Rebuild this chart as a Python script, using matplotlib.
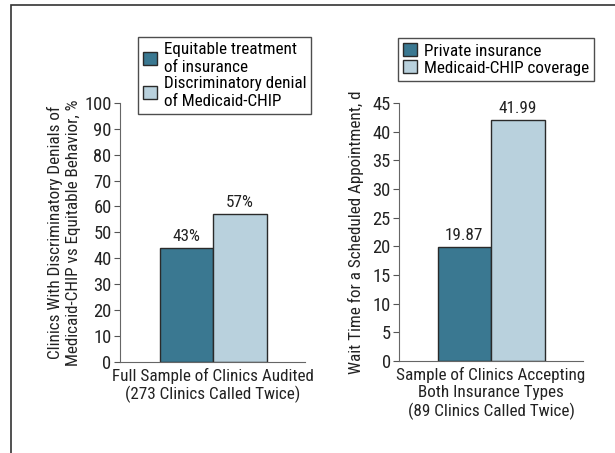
import matplotlib.pyplot as plt
from matplotlib.patches import Patch, Rectangle

plt.rcParams['font.family'] = ['Roboto Condensed', 'DejaVu Sans']

# 左图：歧视性拒绝
left_names = ["Equitable treatment\nof insurance", "Discriminatory denial\nof Medicaid-CHIP"]
left_vals = [44, 57]
left_labels = ["43%", "57%"]
left_cat = "Full Sample of Clinics Audited\n(273 Clinics Called Twice)"
left_ylabel = "Clinics With Discriminatory Denials of\nMedicaid-CHIP vs Equitable Behavior, %"

# 右图：等待时间
right_names = ["Private insurance", "Medicaid-CHIP coverage"]
right_vals = [19.87, 41.99]
right_labels = ["19.87", "41.99"]
right_cat = "Sample of Clinics Accepting\nBoth Insurance Types\n(89 Clinics Called Twice)"
right_ylabel = "Wait Time for a Scheduled Appointment, d"

colors = ["#3a7891", "#b9d1dd"]
edge = "#2a2a2a"
fs = 12.3

fig = plt.figure(figsize=(6.15, 4.53), dpi=100)

# 外框
fig.patches.append(Rectangle((11/615, -0.1), 1.2, 1 - 5/453 + 0.1, transform=fig.transFigure,
                             fill=False, edgecolor="#333333", linewidth=1.2))

ax1 = fig.add_axes([0.195, 0.201, 0.301, 0.572])
ax2 = fig.add_axes([0.649, 0.203, 0.299, 0.570])


def draw(ax, vals, labels, cat, ylabel, ymax, step, lo, hi, lp):
    ax.bar([0, 1], vals, width=1, color=colors, edgecolor=edge, linewidth=1)
    for x, v, t in zip([0, 1], vals, labels):
        ax.text(x, v + ymax * 0.015, t, ha="center", va="bottom", fontsize=fs, color="#222222")
    ax.set_xlim(lo, hi)
    ax.set_ylim(0, ymax)
    ax.set_yticks(range(0, ymax + 1, step))
    ax.set_xticks([0.5])
    ax.set_xticklabels([cat], fontsize=fs, color="#222222", linespacing=1.2)
    ax.tick_params(axis="x", length=0, pad=4)
    ax.tick_params(axis="y", length=4, color="#555555", labelsize=fs + 1, labelcolor="#222222", pad=2)
    for s in ["top", "right"]:
        ax.spines[s].set_visible(False)
    ax.spines["left"].set_color("#666666")
    ax.spines["bottom"].set_color("#666666")
    ax.set_ylabel(ylabel, fontsize=fs, color="#222222", linespacing=1.25, labelpad=lp)
    return [Patch(facecolor=c, edgecolor=edge, linewidth=1) for c in colors]


h1 = draw(ax1, left_vals, left_labels, left_cat, left_ylabel, 100, 10, -1.24, 2.22, 2)
h2 = draw(ax2, right_vals, right_labels, right_cat, right_ylabel, 45, 5, -1.22, 2.22, 6)

for h, names, anchor in [(h1, left_names, (138/615, 1 - 37/453)),
                         (h2, right_names, (398/615, 1 - 38/453))]:
    leg = fig.legend(h, names, loc="upper left", bbox_to_anchor=anchor,
                     fontsize=fs, frameon=True, fancybox=False, edgecolor="#222222",
                     handlelength=0.8, handleheight=0.8, handletextpad=0.4, borderpad=0.3,
                     labelspacing=0.1, borderaxespad=0)
    leg.get_frame().set_linewidth(1)

fig.savefig("out.png", dpi=100)
